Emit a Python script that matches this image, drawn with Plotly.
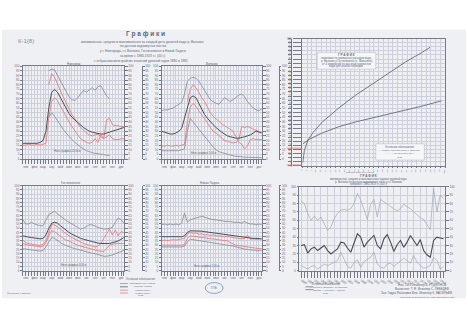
import plotly.graph_objects as go

W, H = 468, 330


def fx(p):
    return p / W


def fy(p):
    return 1 - p / H


# ---------------- data ----------------
decades = list(range(36))
month_ticks = [1, 4, 7, 10, 13, 16, 19, 22, 25, 28, 31, 34]
month_labels = ["янв", "фев", "мар", "апр", "май", "июн", "июл", "авг", "сен", "окт", "ноя", "дек"]

# Новгород
nov_max = [None] * 9 + [95, 97, 96, 90, 84, 78, 72, 67, 64, 63, 66, 70, 74, 72, 75, 77, 74, 78, 79, 73, 68, 65] + [None] * 5
nov_mean = [17, 17, 17, 17, 17, 17, 18, 20, 30, 55, 72, 75, 72, 66, 60, 54, 49, 45, 42, 39, 36, 34, 32, 30, 29, 28, 27.5, 27, 27, 28, 29, 30, 31, 32, 33, 34]
nov_red_a = [None] * 9 + [80, 92, 88, 80, 74, 67, 60, 54, 48, 43, 38, 34, 31, 28, 26, 25, 26, 27, 24, 22, 24, 26, 22, 21, 21, 22, 22]
nov_red_b = [15, 15, 16, 15, 15, 16, 15, 16, 17, 45, 62, 66, 63, 57, 51, 45, 40, 35, 30, 26, 22, 20, 18, 17, 18, 22, 18, 26, 22, 42, 44, 37, 36, 36, 35, 35]
nov_min = [None] * 9 + [45, 50, 46, 41, 36, 32, 28, 24, 21, 18, 15, 13, 11, 9, 8, 7, 6, 6, 5, 5, 4, 4] + [None] * 5

# Волхово
vol_max = [52, 53, 53, 54, 55, 57, 59, 61, 70, 84, 87, 88, 87, 84, 79, 74, 68, 64, 62, 60, 59, 62, 66, 64, 62, 64, 67, 69, 70, 67, 62, 58, 55, 53, 52, 54]
vol_mean = [30, 29, 28, 27, 27, 28, 30, 33, 44, 56, 66, 68, 66, 60, 54, 48, 44, 40, 37, 34, 31, 29, 27, 25, 24, 23, 22.5, 22.5, 23, 24, 25, 26, 28, 30, 29, 28]
vol_red_a = [None] * 9 + [62, 75, 80, 77, 72, 66, 62, 56, 50, 46, 43, 40, 38, 36, 34, 32, 30, 24, 18, 16, 11, 14, 21, 22, 21, 21, 21]
vol_red_b = [14, 14, 15, 14, 14, 15, 14, 15, 16, 40, 56, 60, 57, 52, 48, 44, 39, 34, 30, 28, 25, 22, 20, 19, 18, 17.5, 18, 21, 35, 34, 35, 34, 32, 31, 30, 28]
vol_min = [9, 9, 9, 9, 9, 9, 9, 10, 11, 30, 44, 40, 36, 32, 28, 24, 20, 16, 13, 10, 8, 7, 6, 5, 4, 3.5, 3, 3, 2.5, 2, 2, 1.8, 1.5, 1.5, 1.5, 1.5]

# Гостинополье
gos_max = [60, 55, 55, 57, 55, 54, 53, 53, 60, 66, 68, 70, 67, 64, 61, 59, 57, 55, 53, 51, 49, 50, 52, 54, 54, 52, 51, 50, 49, 49, 50, 51, 57, 62, 60, 56]
gos_mean = [41, 40, 39.5, 39, 38.5, 38, 37.5, 38, 42, 50, 56, 57, 56, 53, 50, 47, 45, 43, 41, 39.5, 38, 37, 36, 35, 34, 33, 32.5, 32, 32, 32, 32, 33, 34, 35, 37, 39]
gos_red_a = [36, 33, 32, 31, 31, 30, 30, 31, 35, 45, 54, 54, 52, 49, 46, 43, 41, 39, 37, 35, 34, 32, 31, 30, 29, 28, 29, 32, 38, 43, 49, 42, 48, 41, 46, 45]
gos_red_b = [32, 31, 30, 30, 29, 29, 28, 29, 33, 41, 47, 46, 43, 40, 38, 36, 35, 33, 31, 30, 29, 28, 27, 26, 25, 24, 23.5, 23, 22.6, 26, 30, 31, 32, 32, 32, 32]
gos_min = [26, 25.5, 25, 24.5, 24, 23.5, 23, 24, 28, 34, 39, 38, 35, 33, 31, 29.5, 28, 27, 26, 25, 24, 23, 22, 21, 20.5, 20, 19, 18, 17, 17, 17.5, 18.5, 20, 21, 22.5, 24]

# Новая Ладога
nl_max = [54, 55, 54, 55, 54, 55, 54, 56, 68, 57, 60, 61, 62, 63, 64, 63, 62, 61, 60, 60, 59, 59, 58, 58, 58, 57, 57, 57, 56, 58, 56, 55, 55, 54, 55, 54]
nl_mean = [40, 40, 40, 40, 40, 40, 40, 40, 41, 45, 47, 47, 47, 47, 46.5, 46, 45.5, 45, 44.5, 44, 43.5, 43, 43, 42.5, 42, 41.5, 41, 40.5, 40, 39.5, 39, 38.5, 38, 38, 37.5, 37.5]
nl_red_a = [35.5, 36, 35.5, 36, 36.5, 36, 37, 37.5, 38, 43, 45, 44, 44.5, 43, 43.5, 42, 42.5, 41.5, 42, 41, 41, 40.5, 40, 40.5, 39.5, 39, 38.5, 38, 37.5, 38, 42, 37, 37.5, 37, 37.5, 37.5]
nl_red_b = [30, 30, 30, 30, 30, 30, 30, 30, 31, 38, 41, 40.5, 40, 39.5, 39, 38.5, 38, 37.5, 37, 36.5, 36, 36, 35.5, 35, 33, 31, 30, 29.5, 29, 28, 27.5, 27, 27, 26.5, 26, 26]
nl_min = [28, 28, 28, 28, 28, 28, 28, 28, 29, 34, 37, 36.5, 36, 35.5, 35, 34.5, 34, 33.5, 33, 32.5, 32, 31.5, 31, 30.5, 30, 29, 28, 27, 26, 25.5, 25, 24.5, 24, 24, 23.5, 23.5]

# Кривые (верхний правый график)
curve_a_x = [0.2, 1.4, 3.7, 7.2, 14, 25.7, 37.3, 48.8, 60.4, 72, 83.5, 89.4]
curve_a_y = [2.5, 12.3, 19.8, 26, 34.6, 45.7, 55.6, 64.2, 72.8, 81.5, 88.9, 93.1]
curve_b_x = [0.2, 4.9, 14, 25.7, 37.3, 60.4, 83.5, 97.4]
curve_b_y = [17.3, 21, 26, 30.9, 34.6, 40.7, 46.9, 51.1]

# Годовые уровни (нижний правый график)
years = list(range(1880, 1924))
yr_max = [83, 80, 68, 60, 65, 60, 64, 56, 48, 52, 62, 68, 72, 73, 72, 74, 80, 92, 84, 73, 61, 79, 85, 64, 85, 82,
          79, 76, 74, 71, 74, 79, 76, 74, 70, 66, 63, 61, 55, 49, 98, 70, 90, 86]
yr_mean = [30, 31, 21, 26, 28, 24, 27, 30, 24, 20, 23, 26, 34, 33, 27, 22, 33, 44, 40, 28, 34, 38, 42, 30, 26, 38,
           43, 34, 23, 31, 36, 28, 34, 42, 36, 30, 37, 24, 19, 16, 36, 40, 39, 38]
yr_min = [6, 4, 2, 5, 6, 2, 5, 8, 6, 8, 11, 12, 22, 14, 5, 3, 10, 13, 4, 11, 14, 16, 22, 8, 4, 3, 8, 9, 5, 8, 12,
          15, 12, 9, 18, 10, 6, 3, 4, 6, 16, 12, 2, 5]

# ---------------- styles ----------------
GRID = "#cdd0da"
FRAME = "#767a86"
DARK = "#4a4e59"
LIGHT = "#858994"
RED = "#e27577"
TXT = "#60657a"
FONT = "Liberation Sans"

panels = {
    1: ((21, 123), (65, 159)),
    2: ((161, 262), (65, 159)),
    3: ((21, 123), (186, 272)),
    4: ((161, 262), (186, 272)),
    5: ((303, 447), (37, 166)),
    6: ((300, 447), (187, 272)),
}


def ax_id(k, letter):
    return letter if k == 1 else f"{letter}{k}"


fig = go.Figure()


def add_line(k, xs, ys, color, width):
    fig.add_trace(go.Scatter(x=xs, y=ys, mode="lines", line=dict(color=color, width=width),
                             xaxis=ax_id(k, "x"), yaxis=ax_id(k, "y"), showlegend=False,
                             hoverinfo="skip", connectgaps=False))


hydro = [
    (1, nov_max, nov_mean, nov_min, nov_red_a, nov_red_b),
    (2, vol_max, vol_mean, vol_min, vol_red_a, vol_red_b),
    (3, gos_max, gos_mean, gos_min, gos_red_a, gos_red_b),
    (4, nl_max, nl_mean, nl_min, nl_red_a, nl_red_b),
]
for k, mx, mean, mn, ra, rb in hydro:
    add_line(k, decades, ra, RED, 0.8)
    add_line(k, decades, rb, RED, 0.8)
    add_line(k, decades, mx, LIGHT, 0.8)
    add_line(k, decades, mean, DARK, 1.0)
    add_line(k, decades, mn, LIGHT, 0.8)

add_line(5, curve_a_x, curve_a_y, "#666a75", 0.9)
add_line(5, curve_b_x, curve_b_y, "#666a75", 0.9)

add_line(6, years, yr_max, "#a2a6b0", 0.7)
add_line(6, years, yr_mean, "#454a55", 1.1)
add_line(6, years, yr_min, "#a2a6b0", 0.7)

layout = {}
tickfont = dict(size=3, color=TXT, family=FONT)

for k, ((x0, x1), (y0, y1)) in panels.items():
    xk = "xaxis" if k == 1 else f"xaxis{k}"
    yk = "yaxis" if k == 1 else f"yaxis{k}"
    xa = dict(domain=[fx(x0), fx(x1)], anchor=ax_id(k, "y"), showgrid=True, gridcolor=GRID, gridwidth=0.5,
              showline=True, linecolor=FRAME, linewidth=0.8, mirror=True, zeroline=False,
              tickfont=tickfont, ticks="outside", ticklen=4, tickcolor=FRAME, tickwidth=0.5)
    ya = dict(domain=[fy(y1), fy(y0)], anchor=ax_id(k, "x"), showgrid=True, gridcolor=GRID, gridwidth=0.5,
              showline=True, linecolor=FRAME, linewidth=0.8, mirror=True, zeroline=False,
              tickfont=tickfont, ticks="outside", ticklen=2, tickcolor=FRAME, tickwidth=0.5)
    if k <= 4:
        xa.update(range=[0, 35], tickmode="array", tickvals=decades,
                  ticktext=[month_labels[month_ticks.index(d)] if d in month_ticks else "" for d in decades])
        ya.update(range=[0, 100], dtick=5)
    elif k == 5:
        xa.update(range=[0, 100], dtick=100 / 30, tickformat=".0f", ticklen=1,
                  tickfont=dict(size=2.4, color=TXT, family=FONT))
        ya.update(range=[0, 100], dtick=100 / 31, tickformat=".0f", ticklen=9)
    else:
        xa.update(range=[1879.5, 1923.5], dtick=2, tickformat="d", ticklen=6,
                  minor=dict(dtick=1, ticks="outside", ticklen=6, tickcolor=FRAME, showgrid=False))
        ya.update(range=[0, 100], dtick=10)
    layout[xk] = xa
    layout[yk] = ya

# secondary scales (right side) and far rulers
extra = {}
for k in [1, 2, 3, 4, 6]:
    extra[6 + k] = dict(overlaying=ax_id(k, "y"), side="right", anchor=ax_id(k, "x"),
                        range=layout["yaxis" if k == 1 else f"yaxis{k}"]["range"], dtick=5 if k <= 4 else 10,
                        showgrid=False, zeroline=False, tickfont=tickfont, ticks="outside", ticklen=3,
                        tickcolor=FRAME, tickwidth=0.5, showline=True, linecolor=FRAME, linewidth=0.5)
far_pos = {1: 141, 2: 279, 3: 141, 4: 279}
for k, px in far_pos.items():
    extra[12 + k] = dict(overlaying=ax_id(k, "y"), side="right", anchor="free", position=fx(px),
                         range=[0, 100], dtick=5, showgrid=False, zeroline=False, tickfont=tickfont,
                         ticks="outside", ticklen=2, tickcolor=FRAME, tickwidth=0.5, showline=True,
                         linecolor=FRAME, linewidth=0.5)
extra[17] = dict(overlaying="y5", side="left", anchor="free", position=fx(291), range=[0, 100],
                 dtick=100 / 31, showgrid=False, zeroline=False, showticklabels=False, ticks="outside",
                 ticklen=3, tickcolor=FRAME, tickwidth=0.5, showline=True, linecolor=FRAME, linewidth=0.6)

for n, d in extra.items():
    layout[f"yaxis{n}"] = d
    base = d["overlaying"]
    xref = "x" if base == "y" else "x" + base[1:]
    fig.add_trace(go.Scatter(x=[None], y=[None], xaxis=xref, yaxis=f"y{n}", showlegend=False,
                             hoverinfo="skip", mode="lines"))

# ---------------- annotations ----------------
ann = []


def txt(px, py, s, size=3.2, color=TXT, bold=False, anchor="center"):
    ann.append(dict(x=fx(px), y=fy(py), xref="paper", yref="paper", text=f"<b>{s}</b>" if bold else s,
                    showarrow=False, xanchor=anchor, yanchor="middle",
                    font=dict(size=size, color=color, family=FONT)))


txt(24, 39, "К-1(8)", size=6, color="#8089a8")
txt(145, 32.5, "Г р а ф и к и", size=6.5, bold=True, color="#5f667c")
txt(142, 40, "минимальных, средних и максимальных за каждый день уровней воды р. Волхова", size=3.2)
txt(142, 45, "по данным водомерных постов", size=3.2)
txt(142, 50, "у г. Новгорода, ст. Волхово, Гостинополья и Новой Ладоги", size=3.2)
txt(142, 54.5, "за время с 1880-1923 г.г. (44 г.)", size=3.2)
txt(140, 59.5, "с отбрасыванием крайних значений уровней годов 1880 и 1881", size=3.2)

txt(72, 63, "Новгород", size=3)
txt(212, 63, "Волхово", size=3)
txt(70, 183.5, "Гостинополье", size=3)
txt(210, 183.5, "Новая Ладога", size=3)

txt(66, 151, "Ноль графика 14,00 м", size=2.6)
txt(203, 152.5, "Ноль графика 3,00 м", size=2.6)
txt(72, 266.5, "Ноль графика 4,00 м", size=2.6)
txt(206, 267.5, "Ноль графика 1,00 м", size=2.6)

# panel 5 text box
txt(347, 53.5, "Г Р А Ф И К", size=3, bold=True)
txt(347, 57.2, "зависимости суммарных расходов воды", size=2.7)
txt(347, 59.9, "р. Волхова у Гостинополья (с. Михалёво)", size=2.7)
txt(347, 62.6, "от 4 измерений по высотам горизонтов", size=2.7)
txt(347, 65.3, "воды для разных периодов", size=2.7)
txt(401, 146.5, "Условные обозначения", size=2.7)
txt(401, 150.5, "— кривая расходов воды р. Волхова", size=2.4)
txt(401, 153.5, "— — — по данным 1926 г.", size=2.4)
txt(401, 157.5, "1926", size=2.4)
txt(362, 172.3, "Расходы воды в куб. м/сек", size=2.3)

# panel 6 heading
txt(370, 176.3, "Г Р А Ф И К", size=3, bold=True)
txt(370, 179.2, "минимальных, средних и максимальных годовых уровней воды", size=2.6)
txt(370, 181.8, "р. Волхова по данным водомерного поста у ст. Волхово", size=2.6)
txt(370, 184.3, "за время с 1880-1923 г.г. (44 г.)", size=2.6)

# lower legends and signatures
txt(140, 280, "Условные обозначения", size=2.7)
txt(142, 285, "максимальные уровни", size=2.4)
txt(142, 288.3, "средние уровни", size=2.4)
txt(142, 291.7, "уровни 1926 г.", size=2.4)
txt(142, 294.6, "уровни 1927 г.", size=2.4)
txt(140, 297.5, "1926", size=2.4)
txt(214, 289.5, "ГПБ", size=3, color="#6a78a8")
txt(327, 285, "Условные обозначения", size=2.6)
txt(330, 288.3, "— уровни р. Волхова у ст. Волхово", size=2.3)
txt(330, 291.2, "максим. — средние — миним.", size=2.3)
txt(327, 294.5, "1926", size=2.3)
txt(424, 286.5, "Нач. ОИЗ Инженер В. РОДИОНОВ", size=3)
txt(424, 290.8, "Вычислял: Т. Я. Инженер С. ЛЕБЕДЕВ", size=3)
txt(418, 295, "Зав. Гидро-Рабочими Инж. Инженер К. ВАСИЛЬЕВ", size=3)
txt(430, 298.5, "Светокопия Ленинградского отд. Гидро-Волховстроя 1926 г.", size=2)
txt(17, 295, "Фотокопия Т. Дарбюк", size=2.4)

# ---------------- shapes ----------------
shapes = [
    dict(type="rect", xref="paper", yref="paper", x0=0, x1=1, y0=fy(300), y1=fy(28),
         fillcolor="#eef0f3", line=dict(width=0), layer="below"),
    dict(type="rect", xref="paper", yref="paper", x0=fx(318), x1=fx(377), y0=fy(68), y1=fy(51),
         fillcolor="#f5f6f8", line=dict(color="#a0a4ae", width=0.4), layer="above"),
    dict(type="rect", xref="paper", yref="paper", x0=fx(377), x1=fx(426), y0=fy(160), y1=fy(143.5),
         fillcolor="#f5f6f8", line=dict(color="#a0a4ae", width=0.4), layer="above"),
    dict(type="circle", xref="paper", yref="paper", x0=fx(205), x1=fx(223), y0=fy(295), y1=fy(284),
         line=dict(color="#7d89b5", width=0.8)),
    dict(type="line", xref="paper", yref="paper", x0=fx(287), x1=fx(303), y0=fy(148), y1=fy(148),
         line=dict(color=RED, width=0.8)),
    dict(type="line", xref="paper", yref="paper", x0=fx(287), x1=fx(303), y0=fy(165), y1=fy(165),
         line=dict(color=RED, width=0.8)),
]
for py, col in [(285, LIGHT), (288.3, DARK), (291.7, RED), (294.6, RED)]:
    shapes.append(dict(type="line", xref="paper", yref="paper", x0=fx(119), x1=fx(127), y0=fy(py), y1=fy(py),
                       line=dict(color=col, width=0.7)))
for py in [288.3, 291.2]:
    shapes.append(dict(type="line", xref="paper", yref="paper", x0=fx(306), x1=fx(314), y0=fy(py), y1=fy(py),
                       line=dict(color=DARK, width=0.6)))

fig.update_layout(
    width=W, height=H, margin=dict(l=0, r=0, t=0, b=0),
    paper_bgcolor="white", plot_bgcolor="rgba(0,0,0,0)",
    showlegend=False, annotations=ann, shapes=shapes,
    font=dict(family=FONT, color=TXT),
    **layout,
)

fig.write_html("out.html")
